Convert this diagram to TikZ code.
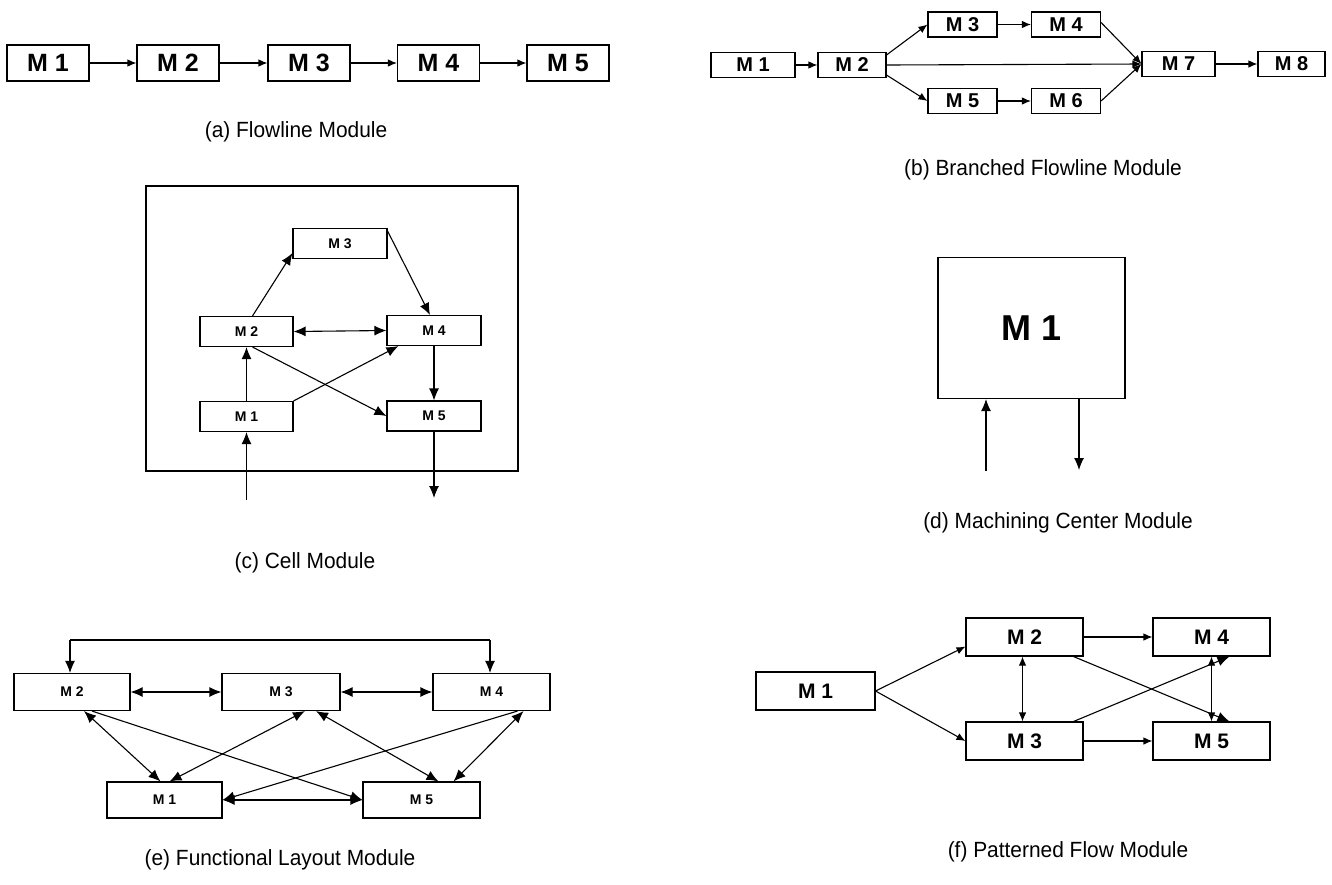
\documentclass[tikz,border=0pt]{standalone}
\usepackage{fontspec}
\setmainfont{Liberation Sans}
\newfontfamily\capfont[FakeStretch=0.95]{Liberation Sans}
\usetikzlibrary{arrows.meta}
\begin{document}
\begin{tikzpicture}[x=1pt,y=-1pt,
  box/.style={draw, line width=1.1pt, inner sep=0pt, font=\bfseries},
  ln/.style={line width=1.1pt},
  arr/.style={ln, -{Latex[length=9pt,width=7.5pt]}},
  darr/.style={ln, {Latex[length=9pt,width=7.5pt]}-{Latex[length=9pt,width=7.5pt]}},
  barr/.style={ln, -{Latex[length=12pt,width=10pt]}},
  bdarr/.style={ln, {Latex[length=12pt,width=10pt]}-{Latex[length=12pt,width=10pt]}},
  captxt/.style={font=\capfont\fontsize{22}{26}\selectfont},
  fa/.style={box, minimum width=82, minimum height=36, font=\bfseries\fontsize{25}{28}\selectfont},
  fb/.style={box, minimum width=69, minimum height=25, font=\bfseries\fontsize{20}{22}\selectfont},
  fc/.style={box, minimum width=94, minimum height=30, font=\bfseries\fontsize{14}{16}\selectfont},
  fe/.style={box, minimum width=117, minimum height=37, font=\bfseries\fontsize{14}{16}\selectfont},
  ff/.style={box, minimum width=117, minimum height=38, font=\bfseries\fontsize{21}{24}\selectfont},
]
\useasboundingbox (0,0) rectangle (1332,884);

% (a) Flowline
\node[fa] (a1) at (48,63) {M 1};
\node[fa] (a2) at (178,63) {M 2};
\node[fa] (a3) at (309,63) {M 3};
\node[fa] (a4) at (438.5,63) {M 4};
\node[fa] (a5) at (568,63) {M 5};
\draw[arr] (a1) -- (a2);
\draw[arr] (a2) -- (a3);
\draw[arr] (a3) -- (a4);
\draw[arr] (a4) -- (a5);
\node[captxt] (la) at (296,132) {(a) Flowline Module};

% (b) Branched flowline
\node[fb, minimum width=84] (b1) at (753,65) {M 1};
\node[fb, minimum width=68] (b2) at (852,65) {M 2};
\node[fb] (b3) at (962.5,24.5) {M 3};
\node[fb] (b4) at (1066,24.5) {M 4};
\node[fb] (b5) at (962.5,101) {M 5};
\node[fb] (b6) at (1066,101) {M 6};
\node[fb, minimum width=73] (b7) at (1178.5,64) {M 7};
\node[fb, minimum width=67] (b8) at (1291.5,64) {M 8};
\draw[arr] (b1) -- (b2);
\draw[arr] (b2.east) -- (b7.west);
\draw[arr] ([yshift=-3]b2.north east) -- (b3.west);
\draw[arr] ([yshift=3]b2.south east) -- (b5.west);
\draw[arr] (b3) -- (b4);
\draw[arr] (b5) -- (b6);
\draw[arr] ([yshift=2]b4.east) -- (b7.west);
\draw[arr] (b6.east) -- (b7.west);
\draw[arr] (b7) -- (b8);
\node[captxt] (lb) at (1043,170) {(b) Branched Flowline Module};

% (c) Cell
\node[draw, line width=1.1pt, minimum width=372, minimum height=285, inner sep=0pt] (cframe) at (332,328.5) {};
\node[fc] (c3) at (340,243.5) {M 3};
\node[fc, minimum width=93] (c2) at (246.5,331.5) {M 2};
\node[fc] (c4) at (434,330.5) {M 4};
\node[fc, minimum width=93] (c1) at (246.5,416.5) {M 1};
\node[fc] (c5) at (434,416) {M 5};
\coordinate (cin) at (246.5,500);
\coordinate (cout) at (434,498);
\draw[barr] ([xshift=6]c2.north) -- ([yshift=6]c3.south west);
\draw[barr] ([yshift=-3]c3.north east) -- ([xshift=-4]c4.north);
\draw[bdarr] (c2.east) -- (c4.west);
\draw[barr] (c1.north) -- (c2.south);
\draw[barr] (c1.north east) -- ([xshift=12]c4.south west);
\draw[barr] ([xshift=6]c2.south) -- (c5.west);
\draw[barr] (c4.south) -- (c5.north);
\draw[barr] (c5.south) -- (cout);
\draw[barr] (cin) -- (c1.south);
\node[captxt] (lc) at (305,563) {(c) Cell Module};

% (d) Machining center
\node[draw, line width=1.1pt, minimum width=187, minimum height=141, inner sep=0pt, font=\bfseries\fontsize{36}{40}\selectfont] (d1) at (1031.5,328) {M 1};
\coordinate (din) at (986,471);
\coordinate (dout) at (1079,470);
\draw[barr] (din) -- (din |- d1.south);
\draw[barr] (dout |- d1.south) -- (dout);
\node[captxt] (ld) at (1058,523) {(d) Machining Center Module};

% (e) Functional layout
\node[fe, minimum width=116] (e2) at (72,692) {M 2};
\node[fe, minimum width=118] (e3) at (281,692) {M 3};
\node[fe] (e4) at (491.5,692) {M 4};
\node[fe, minimum width=115, minimum height=36] (e1) at (164.5,800) {M 1};
\node[fe, minimum width=117, minimum height=36] (e5) at (421.5,800) {M 5};
\coordinate (etl) at (70,640);
\coordinate (etr) at (490,640);
\draw[ln] (etl) -- (etr);
\draw[barr] (etl) -- (etl |- e2.north);
\draw[barr] (etr) -- (etr |- e4.north);
\draw[bdarr] (e2.east) -- (e3.west);
\draw[bdarr] (e3.east) -- (e4.west);
\draw[bdarr] ([xshift=12]e2.south) -- ([xshift=-4]e1.north);
\draw[bdarr] ([xshift=24]e3.south) -- ([xshift=5]e1.north);
\draw[bdarr] ([xshift=35]e3.south) -- ([xshift=17]e5.north);
\draw[bdarr] ([xshift=32]e4.south) -- ([xshift=32]e5.north);
\draw[barr] ([xshift=20]e2.south) -- (e5.west);
\draw[barr] ([xshift=26]e4.south) -- (e1.east);
\draw[bdarr] (e1.east) -- (e5.west);
\node[captxt] (le) at (280,860) {(e) Functional Layout Module};

% (f) Patterned flow
\node[ff, minimum width=119] (f1) at (815.5,691) {M 1};
\node[ff] (f2) at (1024.5,637) {M 2};
\node[ff] (f4) at (1211.5,637) {M 4};
\node[ff] (f3) at (1024.5,741) {M 3};
\node[ff] (f5) at (1211.5,741) {M 5};
\draw[arr] (f1.east) -- ([yshift=10]f2.south west);
\draw[arr] (f1.east) -- (f3.west);
\draw[arr] (f2) -- (f4);
\draw[arr] (f3) -- (f5);
\draw[darr] ([xshift=-2]f2.south) -- ([xshift=-2]f3.north);
\draw[darr] (f4.south) -- (f5.north);
\draw[barr] ([xshift=-10]f2.south east) -- ([xshift=77]f5.north west);
\draw[barr] ([xshift=-10]f3.north east) -- ([xshift=77]f4.south west);
\node[captxt] (lf) at (1068,852) {(f) Patterned Flow Module};
\end{tikzpicture}
\end{document}
